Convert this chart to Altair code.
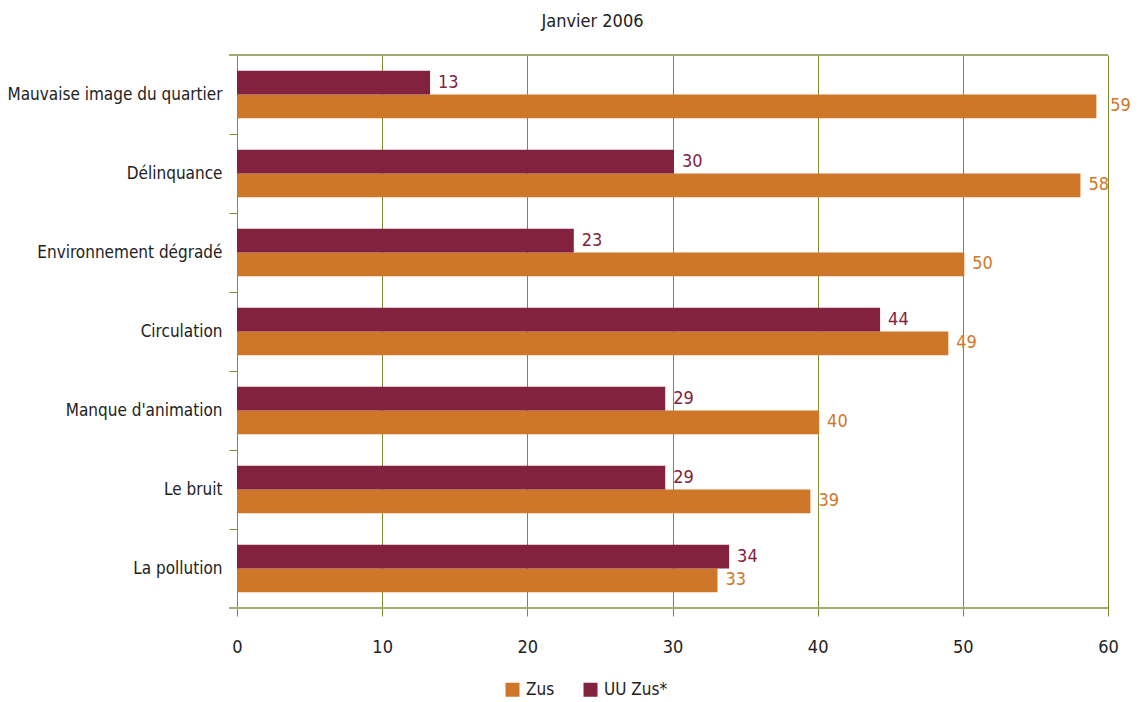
import altair as alt
import pandas as pd

categories = ["Mauvaise image du quartier", "Délinquance", "Environnement dégradé",
              "Circulation", "Manque d'animation", "Le bruit", "La pollution"]
zus_values = [59.2, 58.1, 50.1, 49.0, 40.1, 39.5, 33.1]
uu_values = [13.3, 30.1, 23.2, 44.3, 29.5, 29.5, 33.9]
zus_labels = ["59", "58", "50", "49", "40", "39", "33"]
uu_labels = ["13", "30", "23", "44", "29", "29", "34"]
series = ["Zus", "UU Zus*"]
x_ticks = [0, 10, 20, 30, 40, 50, 60]

rows = []
for c, v, l in zip(categories, zus_values, zus_labels):
    rows.append({"cat": c, "series": "Zus", "value": v, "label": l})
for c, v, l in zip(categories, uu_values, uu_labels):
    rows.append({"cat": c, "series": "UU Zus*", "value": v, "label": l})
df = pd.DataFrame(rows)

ORANGE = "#cf7729"
MAROON = "#82223f"
OLIVE = "#7f8a32"
LIGHT = "#a3ac6e"
FONT = "DejaVu Sans Condensed, Roboto"
W, H = 871, 553

y_enc = alt.Y("cat:N", sort=categories,
              scale=alt.Scale(paddingInner=0.4, paddingOuter=0.2),
              axis=alt.Axis(title=None, bandPosition=-1/3, tickSize=8, tickColor=OLIVE,
                            domainColor=OLIVE, labelPadding=7, labelFontSize=17,
                            labelColor="#222222", labelFont=FONT, labelLimit=400,
                            grid=False))
yoff = alt.YOffset("series:N", sort=["UU Zus*", "Zus"], scale=alt.Scale(paddingInner=0))
x_enc = alt.X("value:Q", scale=alt.Scale(domain=[0, 60], nice=False),
              axis=alt.Axis(title=None, values=x_ticks, grid=True, gridColor=OLIVE,
                            gridOpacity=1, domain=False, tickSize=8, tickColor=OLIVE,
                            labelPadding=22, labelFontSize=18, labelColor="#222222",
                            labelFont=FONT, labelFlush=False))

bars = alt.Chart(df).mark_bar().encode(
    x=x_enc, y=y_enc, yOffset=yoff,
    color=alt.Color("series:N", scale=alt.Scale(domain=series, range=[ORANGE, MAROON]),
                    legend=alt.Legend(title=None, orient="none", direction="horizontal",
                                      legendX=267, legendY=626, symbolType="square",
                                      symbolSize=196, symbolStrokeWidth=0,
                                      labelFontSize=17, labelFont=FONT,
                                      labelColor="#222222", columnPadding=27,
                                      labelOffset=5)),
)

texts = alt.Chart(df).transform_calculate(
    lx="datum.value >= 59 ? datum.value + 0.4 : datum.value"
).mark_text(align="left", baseline="middle", dx=8, fontSize=18, font=FONT).encode(
    x=alt.X("lx:Q"), y=alt.Y("cat:N", sort=categories), yOffset=yoff, text="label:N",
    color=alt.condition(alt.datum.series == "Zus", alt.value(ORANGE), alt.value(MAROON)),
)

edge = pd.DataFrame({"pos": ["top", "bottom"]})
top_line = alt.Chart(edge).transform_filter(alt.datum.pos == "top").mark_rule(
    color=LIGHT, strokeWidth=2).encode(x=alt.value(-8), x2=alt.value(W), y=alt.value(0))
bottom_line = alt.Chart(edge).transform_filter(alt.datum.pos == "bottom").mark_rule(
    color=LIGHT, strokeWidth=2).encode(x=alt.value(-8), x2=alt.value(W), y=alt.value(H))

chart = alt.layer(bars, texts, top_line, bottom_line).properties(
    width=W, height=H,
    title=alt.TitleParams("Janvier 2006", fontSize=18, font=FONT, fontWeight="normal",
                          color="#222222", anchor="middle", dx=-80, offset=23),
    autosize=alt.AutoSizeParams(type="none"),
    padding={"left": 229, "top": 47, "right": 25, "bottom": 92},
).configure_view(stroke=None)

chart.save("out.html", embed_options={"renderer": "svg", "actions": False})
